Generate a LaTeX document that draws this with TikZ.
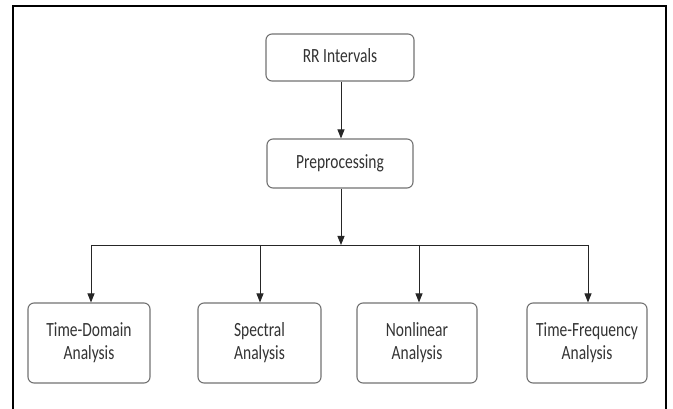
\documentclass[tikz,border=0pt]{standalone}
\usepackage{fontspec}
\usepackage{graphicx}
\setmainfont{Carlito}
\usetikzlibrary{arrows.meta}
\newcommand{\lbl}[1]{\scalebox{1}[1.3]{\begin{tabular}{@{}c@{}}#1\end{tabular}}}
\begin{document}
\begin{tikzpicture}[x=1pt,y=-1pt,
  box/.style={draw=black!55, line width=1.1pt, rounded corners=6pt, fill=white,
    align=center, text=black!80, font=\fontsize{15.5}{17.7}\selectfont, inner sep=0pt},
  conn/.style={draw=black!85, line width=0.9pt},
  arr/.style={conn, -{Triangle[length=9pt,width=7pt]}}]
\useasboundingbox (0,0) rectangle (673,409);
\fill[white] (0,0) rectangle (673,409);
% frame
\draw[line width=2pt] (13,409) -- (13,6) -- (666,6) -- (666,409);
% nodes
\node[box, minimum width=148pt, minimum height=47pt] (rr) at (340,57.5) {\raisebox{-3pt}{\lbl{RR Intervals}}};
\node[box, minimum width=146pt, minimum height=49pt] (pre) at (340,163.5) {\raisebox{-1pt}{\lbl{Preprocessing}}};
\node[box, minimum width=122pt, minimum height=80pt] (td) at (89,343) {\lbl{Time-Domain\\Analysis}};
\node[box, minimum width=123pt, minimum height=80pt] (sp) at (259.5,343) {\lbl{Spectral\\Analysis}};
\node[box, minimum width=120pt, minimum height=80pt] (nl) at (417,343) {\lbl{Nonlinear\\Analysis}};
\node[box, minimum width=120pt, minimum height=80pt] (tf) at (587,343) {\lbl{Time-Frequency\\Analysis}};
% coordinates on the bar
\coordinate (bar) at (341,245);
\coordinate (b1) at (91,245);
\coordinate (b2) at (260,245);
\coordinate (b3) at (419,245);
\coordinate (b4) at (588,245);
% connectors
\draw[arr] (rr.south -| bar) -- (pre.north -| bar);
\draw[arr] (pre.south -| bar) -- (bar);
\draw[conn] (b1) -- (b4);
\draw[arr] (b1) -- (b1 |- td.north);
\draw[arr] (b2) -- (b2 |- sp.north);
\draw[arr] (b3) -- (b3 |- nl.north);
\draw[arr] (b4) -- (b4 |- tf.north);
\end{tikzpicture}
\end{document}
